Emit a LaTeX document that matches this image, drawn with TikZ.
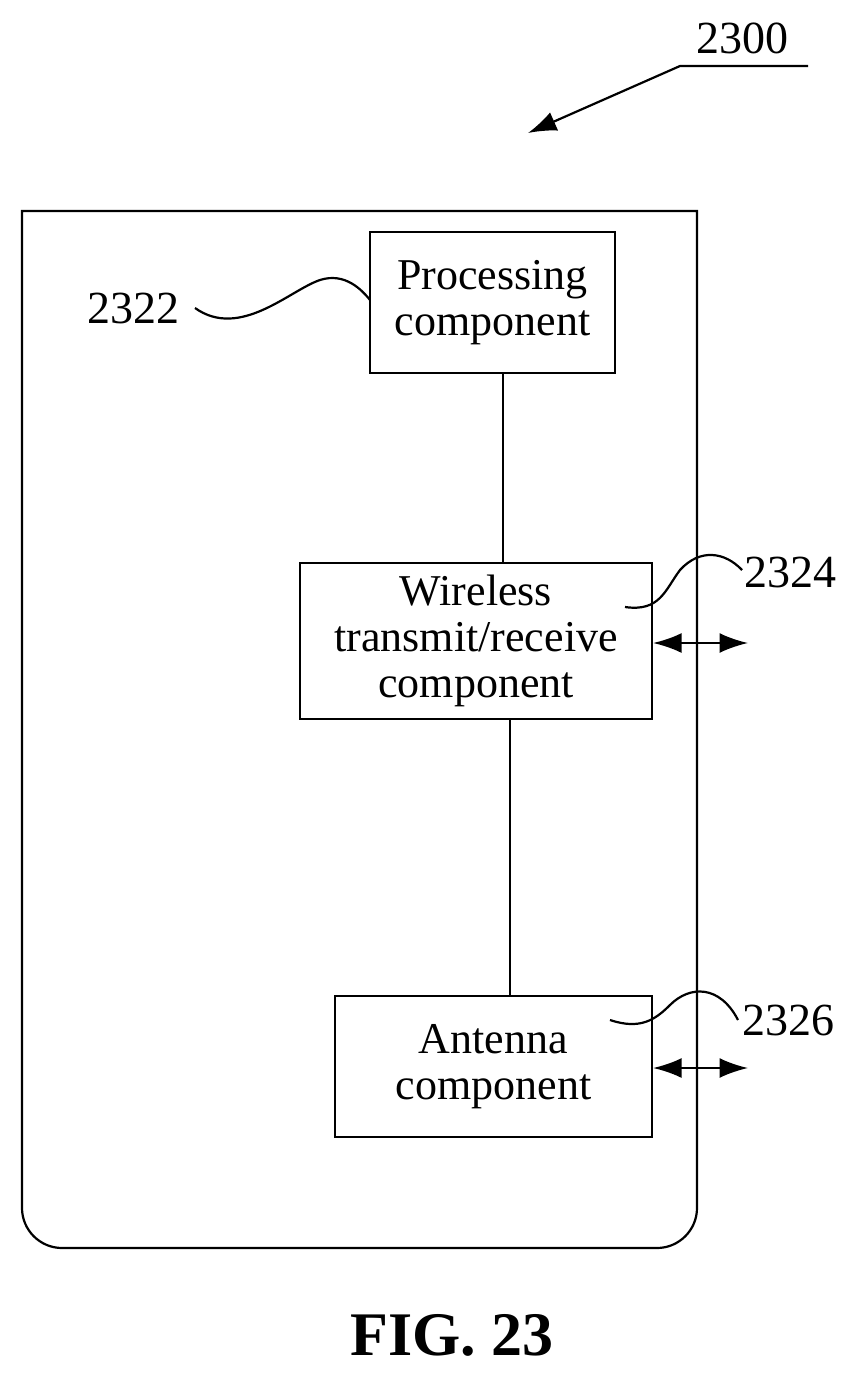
\documentclass[tikz,border=0pt]{standalone}
\usepackage{fontspec}
\setmainfont{Liberation Serif}
\usetikzlibrary{arrows.meta, positioning, calc}
\tikzset{
    block/.style={
        rectangle,
        draw=black,
        fill=white,
        align=center,
        font=\fontsize{22}{23}\selectfont,
        line width=1.1pt,
        inner sep=0pt
    },
    reftext/.style={
        font=\fontsize{23}{24}\selectfont
    },
    link/.style={
        draw=black,
        line width=1.1pt
    },
    dblarrow/.style={
        {Latex[length=5mm, width=3.5mm]}-{Latex[length=5mm, width=3.5mm]},
        line width=1.1pt
    }
}
\begin{document}
\begin{tikzpicture}[x=0.5pt, y=-0.5pt]
    \useasboundingbox (0,0) rectangle (856,1376);

    % Housing
    \draw[link] (22,211) -- (697,211) -- (697,1208)
        .. controls (697,1230) and (679,1248) .. (657,1248) -- (62,1248)
        .. controls (40,1248) and (22,1230) .. (22,1208) -- cycle;

    % Nodes
    \node[block, minimum width=122.5pt, minimum height=70.5pt] (proc) at (492.5,302.5) {Processing\\component};
    \node[block, minimum width=176pt, minimum height=78pt] (wire) at (476,641) {Wireless\\transmit/receive\\component};
    \node[block, minimum width=158.5pt, minimum height=70.5pt] (ant) at (493.5,1066.5) {Antenna\\component};

    \coordinate (wout) at (748,643);
    \coordinate (aout) at (748,1068);

    % Labels
    \node[reftext] (l2300) at (742,38) {2300};
    \node[reftext] (l2322) at (133,308) {2322};
    \node[reftext] (l2324) at (790,572) {2324};
    \node[reftext] (l2326) at (788,1020) {2326};
    \node[font=\fontsize{31}{33}\selectfont\bfseries] (fig) at (452,1335) {FIG. 23};

    % Paths
    \draw[link] (proc.south -| 503,0) -- (wire.north -| 503,0);
    \draw[link] (wire.south -| 510,0) -- (ant.north -| 510,0);
    \draw[dblarrow] (wire.east |- wout) -- (wout);
    \draw[dblarrow] (ant.east |- aout) -- (aout);

    % Leaders
    \draw[link, -{Latex[length=5mm, width=3.5mm]}] (808,66) -- (680,66) -- (528,133);
    \draw[link] (195,308) .. controls (240,340) and (290,290) .. (320,280)
        .. controls (345,272) and (362,290) .. (370,300);
    \draw[link] (625,607) .. controls (660,612) and (665,590) .. (680,570)
        .. controls (700,548) and (725,552) .. (742,570);
    \draw[link] (610,1020) .. controls (640,1030) and (655,1020) .. (670,1005)
        .. controls (690,985) and (720,985) .. (738,1020);
\end{tikzpicture}
\end{document}
